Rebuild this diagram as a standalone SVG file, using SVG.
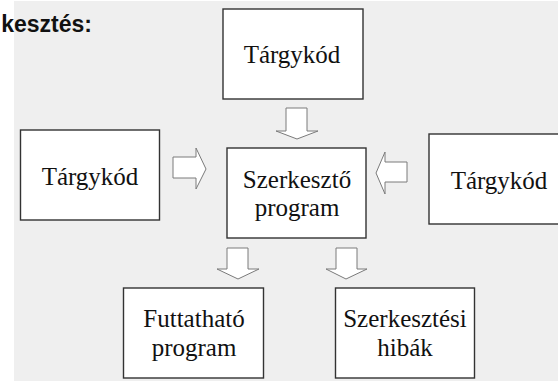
<svg xmlns="http://www.w3.org/2000/svg" width="558" height="381" viewBox="0 0 558 381">
<style>
.box{fill:#ffffff;stroke:#333333;stroke-width:1.4}
.arr{fill:#ffffff;stroke:#7a7a7a;stroke-width:1}
</style>
<rect x="0" y="0" width="558" height="381" fill="#ffffff"/>
<rect x="14" y="1" width="544" height="380" fill="#efefef"/>
<text font-family="Liberation Sans, Arial, sans-serif" font-size="23" font-weight="bold" fill="#111111" text-anchor="end" x="92" y="32">kesztés:</text>
<g id="connectors">
<polygon class="arr" points="286,108 307,108 307,131 318,131 297,139 276,131 286,131"/>
<polygon class="arr" points="173,157 196,157 196,148 206,169 196,189 196,178 173,178"/>
<polygon class="arr" points="407,162 385,162 385,152 376,173 385,194 385,182 407,182"/>
<polygon class="arr" points="227,248 248,248 248,269 259,269 238,279 217,269 227,269"/>
<polygon class="arr" points="336,248 357,248 357,269 367,269 346,279 326,269 336,269"/>
</g>
<g font-family="Liberation Serif, serif" font-size="25" fill="#111111" text-anchor="middle">
<g id="top-targykod">
<rect class="box" x="223" y="9" width="140" height="90"/>
<text x="292" y="63">Tárgykód</text>
</g>
<g id="left-targykod">
<rect class="box" x="20.5" y="130" width="139" height="90"/>
<text x="90" y="185">Tárgykód</text>
</g>
<g id="right-targykod">
<rect class="box" x="429" y="134" width="140" height="90"/>
<text x="499" y="189">Tárgykód</text>
</g>
<g id="szerkeszto">
<rect class="box" x="227" y="148" width="139" height="90"/>
<text x="297" y="188">Szerkesztő</text>
<text x="297" y="216">program</text>
</g>
<g id="futtathato">
<rect class="box" x="123.5" y="288" width="140" height="90"/>
<text x="194" y="327">Futtatható</text>
<text x="194" y="356">program</text>
</g>
<g id="hibak">
<rect class="box" x="335.5" y="288" width="139" height="90"/>
<text x="405" y="327">Szerkesztési</text>
<text x="405" y="356">hibák</text>
</g>
</g>
</svg>
